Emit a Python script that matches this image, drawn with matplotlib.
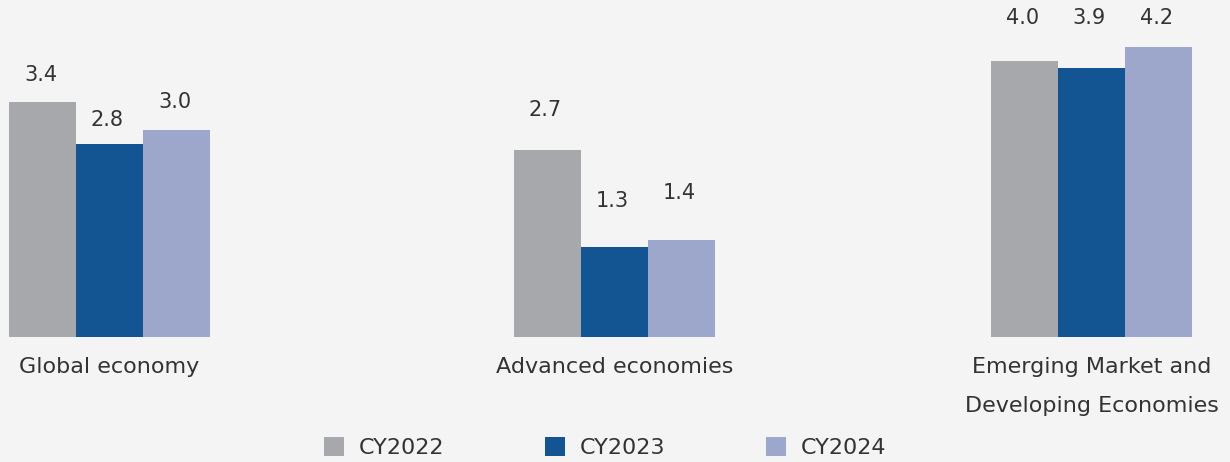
import matplotlib
matplotlib.use("Agg")
import matplotlib.pyplot as plt
from matplotlib.patches import Patch

plt.rcParams['font.family'] = ['DejaVu Sans']

# データ
categories = ["Global economy", "Advanced economies", "Emerging Market and\nDeveloping Economies"]
years = ["CY2022", "CY2023", "CY2024"]
cy2022 = [3.4, 2.7, 4.0]
cy2023 = [2.8, 1.3, 3.9]
cy2024 = [3.0, 1.4, 4.2]

colors = ["#a7a8ab", "#135592", "#9da7cb"]
text_color = "#333333"
bg = "#f4f4f4"

# 配置（グループ中心とバー幅、ラベルのずれ）
centers = [109.5, 614.5, 1091.5]
bar_w = 67
label_gap = [[27, 40, 43], [24, 46, 50], [28, 47, 29]]

fig = plt.figure(figsize=(12.3, 4.62), dpi=100, facecolor=bg)
ax = fig.add_axes([0, 125 / 462, 1, 337 / 462])
ax.set_facecolor(bg)

series = [cy2022, cy2023, cy2024]
for i, vals in enumerate(series):
    xs = [c + (i - 1) * bar_w for c in centers]
    ax.bar(xs, vals, width=bar_w, color=colors[i], linewidth=0)
    for j, (x, v) in enumerate(zip(xs, vals)):
        ax.annotate(f"{v:.1f}", (x, v), xytext=(-2, label_gap[i][j]),
                    textcoords="offset pixels", ha="center", va="center",
                    fontsize=15, color=text_color)

ax.set_xlim(0, 1230)
ax.set_ylim(0, 337 / 69.1)
ax.axis("off")

for c, name in zip(centers, categories):
    ax.annotate(name, (c, 0), xytext=(0, -20), textcoords="offset pixels",
                ha="center", va="top", fontsize=16, color=text_color,
                linespacing=2.2)

handles = [Patch(facecolor=colors[i], edgecolor="none", label=years[i]) for i in range(3)]
fig.legend(handles=handles, loc="lower center", bbox_to_anchor=(0.492, -0.035), ncol=3,
           frameon=False, fontsize=16, handlelength=0.9, handleheight=0.9,
           handletextpad=0.7, columnspacing=4.5, labelcolor=text_color)

plt.savefig("out.png", facecolor=bg)
plt.close()
